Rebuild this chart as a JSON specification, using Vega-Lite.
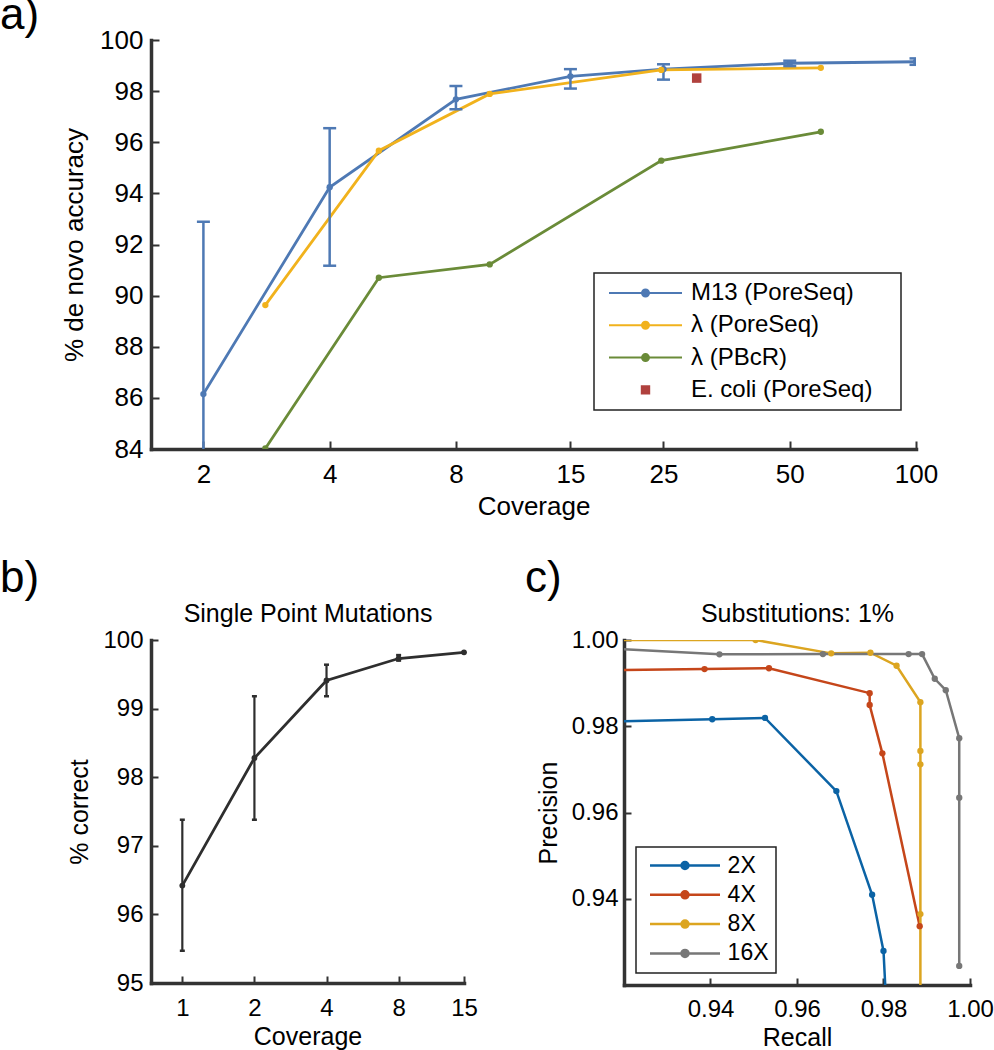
{
  "$schema": "https://vega.github.io/schema/vega-lite/v6.json",
  "autosize": {"type": "none"},
  "padding": {"left": 151, "top": 40, "right": 843, "bottom": 1010},
  "background": "white",
  "config": {
    "font": "Liberation Sans",
    "view": {"stroke": null},
    "axis": {"grid": false, "domainColor": "#333333", "domainWidth": 3.5, "domainCap": "square", "tickColor": "#333333", "tickWidth": 2, "labelColor": "#000000", "titleColor": "#000000", "titleFontWeight": "normal", "labelFlush": false, "labelOverlap": false},
    "title": {"fontWeight": "normal", "color": "#000000", "font": "Liberation Sans"}
  },
  "resolve": {"scale": {"color": "independent"}, "legend": {"color": "independent"}},
  "datasets": {
    "a": [
      {"s": "M13 (PoreSeq)", "cov": 2, "acc": 86.15, "lo": 79.4, "hi": 92.89},
      {"s": "M13 (PoreSeq)", "cov": 4, "acc": 94.24, "lo": 91.17, "hi": 96.55},
      {"s": "M13 (PoreSeq)", "cov": 8, "acc": 97.68, "lo": 97.29, "hi": 98.2},
      {"s": "M13 (PoreSeq)", "cov": 15, "acc": 98.58, "lo": 98.1, "hi": 98.86},
      {"s": "M13 (PoreSeq)", "cov": 25, "acc": 98.86, "lo": 98.45, "hi": 99.05},
      {"s": "M13 (PoreSeq)", "cov": 50, "acc": 99.09, "lo": 98.98, "hi": 99.19},
      {"s": "M13 (PoreSeq)", "cov": 100, "acc": 99.15, "lo": 99.03, "hi": 99.28},
      {"s": "λ (PoreSeq)", "cov": 2.81, "acc": 89.63},
      {"s": "λ (PoreSeq)", "cov": 5.24, "acc": 95.67},
      {"s": "λ (PoreSeq)", "cov": 9.63, "acc": 97.89},
      {"s": "λ (PoreSeq)", "cov": 24.7, "acc": 98.83},
      {"s": "λ (PoreSeq)", "cov": 59.3, "acc": 98.91},
      {"s": "λ (PBcR)", "cov": 2.81, "acc": 84.02},
      {"s": "λ (PBcR)", "cov": 5.24, "acc": 90.7},
      {"s": "λ (PBcR)", "cov": 9.63, "acc": 91.22},
      {"s": "λ (PBcR)", "cov": 24.7, "acc": 95.28},
      {"s": "λ (PBcR)", "cov": 59.3, "acc": 96.41},
      {"s": "E. coli (PoreSeq)", "cov": 30, "acc": 98.51}
    ],
    "b": [
      {"cov": 1, "pct": 96.42, "lo": 95.47, "hi": 97.38},
      {"cov": 2, "pct": 98.28, "lo": 97.38, "hi": 99.18},
      {"cov": 4, "pct": 99.41, "lo": 99.18, "hi": 99.64},
      {"cov": 8, "pct": 99.73, "lo": 99.7, "hi": 99.78},
      {"cov": 15, "pct": 99.82}
    ],
    "c": [
      {"cov": "2X", "i": 0, "recall": 0.915, "precision": 0.98104},
      {"cov": "2X", "i": 1, "recall": 0.9404, "precision": 0.98163},
      {"cov": "2X", "i": 2, "recall": 0.9526, "precision": 0.98193},
      {"cov": "2X", "i": 3, "recall": 0.9691, "precision": 0.96496},
      {"cov": "2X", "i": 4, "recall": 0.97737, "precision": 0.94093},
      {"cov": "2X", "i": 5, "recall": 0.98, "precision": 0.92791},
      {"cov": "2X", "i": 6, "recall": 0.98065, "precision": 0.915},
      {"cov": "4X", "i": 0, "recall": 0.915, "precision": 0.99296},
      {"cov": "4X", "i": 1, "recall": 0.93862, "precision": 0.99326},
      {"cov": "4X", "i": 2, "recall": 0.95352, "precision": 0.99345},
      {"cov": "4X", "i": 3, "recall": 0.9768, "precision": 0.98768},
      {"cov": "4X", "i": 4, "recall": 0.9768, "precision": 0.98492},
      {"cov": "4X", "i": 5, "recall": 0.97974, "precision": 0.97372},
      {"cov": "4X", "i": 6, "recall": 0.98837, "precision": 0.93365},
      {"cov": "8X", "i": 0, "recall": 0.915, "precision": 1.0},
      {"cov": "8X", "i": 1, "recall": 0.95043, "precision": 1.0},
      {"cov": "8X", "i": 2, "recall": 0.9679, "precision": 0.9969},
      {"cov": "8X", "i": 3, "recall": 0.97698, "precision": 0.99705},
      {"cov": "8X", "i": 4, "recall": 0.98302, "precision": 0.99403},
      {"cov": "8X", "i": 5, "recall": 0.98853, "precision": 0.98558},
      {"cov": "8X", "i": 6, "recall": 0.98853, "precision": 0.97426},
      {"cov": "8X", "i": 7, "recall": 0.98853, "precision": 0.97116},
      {"cov": "8X", "i": 8, "recall": 0.98853, "precision": 0.93644},
      {"cov": "8X", "i": 9, "recall": 0.98853, "precision": 0.915},
      {"cov": "16X", "i": 0, "recall": 0.915, "precision": 0.99809},
      {"cov": "16X", "i": 1, "recall": 0.94207, "precision": 0.99667},
      {"cov": "16X", "i": 2, "recall": 0.96599, "precision": 0.99674},
      {"cov": "16X", "i": 3, "recall": 0.98581, "precision": 0.99674},
      {"cov": "16X", "i": 4, "recall": 0.98892, "precision": 0.99674},
      {"cov": "16X", "i": 5, "recall": 0.99185, "precision": 0.99101},
      {"cov": "16X", "i": 6, "recall": 0.9944, "precision": 0.98837},
      {"cov": "16X", "i": 7, "recall": 0.99751, "precision": 0.97721},
      {"cov": "16X", "i": 8, "recall": 0.99751, "precision": 0.96342},
      {"cov": "16X", "i": 9, "recall": 0.99751, "precision": 0.92442}
    ]
  },
  "bounds": "flush",
  "spacing": 191,
  "vconcat": [
    {
      "width": 765,
      "height": 409,
      "title": {"text": "a)", "anchor": "start", "frame": "group", "dx": -151, "fontSize": 44, "offset": -11},
      "data": {"name": "a"},
      "layer": [
        {
          "transform": [{"filter": "datum.s !== 'E. coli (PoreSeq)'"}],
          "mark": {"type": "line", "strokeWidth": 2.8, "clip": true},
          "encoding": {
            "x": {"field": "cov", "type": "quantitative", "scale": {"type": "log", "domain": [1.5, 100], "nice": false},
              "axis": {"values": [2, 4, 8, 15, 25, 50, 100], "format": "d", "title": "Coverage", "labelFontSize": 26, "titleFontSize": 26, "tickSize": -8, "labelPadding": 20, "titlePadding": 6}},
            "y": {"field": "acc", "type": "quantitative", "scale": {"domain": [84, 100], "nice": false, "zero": false},
              "axis": {"values": [84, 86, 88, 90, 92, 94, 96, 98, 100], "format": "d", "title": "% de novo accuracy", "labelFontSize": 26, "titleFontSize": 26, "tickSize": -8, "labelPadding": 16, "titlePadding": 12}},
            "color": {"field": "s", "type": "nominal",
              "scale": {"domain": ["M13 (PoreSeq)", "λ (PoreSeq)", "λ (PBcR)", "E. coli (PoreSeq)"], "range": ["#4e79b4", "#f1b21c", "#6a8b38", "#b0413e"]},
              "legend": {
                "title": null, "orient": "none", "legendX": 443, "legendY": 233,
                "padding": 8, "rowPadding": 8.3, "labelFontSize": 24, "labelColor": "#000000", "labelLimit": 400,
                "labelExpr": "datum.label + '\u00a0\u00a0\u00a0\u200b'",
                "symbolSize": 4, "symbolStrokeWidth": 2, "symbolOffset": 31.5, "labelOffset": 33.5,
                "strokeColor": "#222222", "fillColor": "white",
                "encode": {
                  "symbols": {"update": {
                    "shape": {"signal": "datum.value === 'E. coli (PoreSeq)' ? 'M-3.7,-3.7H3.7V3.7H-3.7Z' : 'M-36.5,0H36.5M-3.5,0A3.5,3.5,0,1,1,3.5,0A3.5,3.5,0,1,1,-3.5,0'"},
                    "fill": {"signal": "datum.value === 'M13 (PoreSeq)' ? '#4e79b4' : datum.value === 'λ (PoreSeq)' ? '#f1b21c' : datum.value === 'λ (PBcR)' ? '#6a8b38' : '#b0413e'"},
                    "stroke": {"signal": "datum.value === 'M13 (PoreSeq)' ? '#4e79b4' : datum.value === 'λ (PoreSeq)' ? '#f1b21c' : datum.value === 'λ (PBcR)' ? '#6a8b38' : '#b0413e'"},
                    "strokeWidth": {"value": 2},
                    "opacity": {"value": 1},
                    "fillOpacity": {"value": 1},
                    "strokeOpacity": {"value": 1}
                  }},
                  "legend": {"update": {"strokeWidth": {"value": 1.5}}}
                }
              }}
          }
        },
        {
          "transform": [{"filter": "datum.lo != null"}],
          "mark": {"type": "rule", "strokeWidth": 2.5, "color": "#4e79b4", "clip": true},
          "encoding": {
            "x": {"field": "cov", "type": "quantitative", "scale": {"type": "log", "domain": [1.5, 100], "nice": false}},
            "y": {"field": "lo", "type": "quantitative", "scale": {"domain": [84, 100], "nice": false, "zero": false}},
            "y2": {"field": "hi"}
          }
        },
        {
          "transform": [{"filter": "datum.hi != null"}],
          "mark": {"type": "tick", "orient": "horizontal", "size": 13, "thickness": 2.5, "color": "#4e79b4", "opacity": 1, "clip": true},
          "encoding": {
            "x": {"field": "cov", "type": "quantitative", "scale": {"type": "log", "domain": [1.5, 100], "nice": false}},
            "y": {"field": "hi", "type": "quantitative", "scale": {"domain": [84, 100], "nice": false, "zero": false}}
          }
        },
        {
          "transform": [{"filter": "datum.lo != null"}],
          "mark": {"type": "tick", "orient": "horizontal", "size": 13, "thickness": 2.5, "color": "#4e79b4", "opacity": 1, "clip": true},
          "encoding": {
            "x": {"field": "cov", "type": "quantitative", "scale": {"type": "log", "domain": [1.5, 100], "nice": false}},
            "y": {"field": "lo", "type": "quantitative", "scale": {"domain": [84, 100], "nice": false, "zero": false}}
          }
        },
        {
          "transform": [{"filter": "datum.s !== 'E. coli (PoreSeq)'"}],
          "mark": {"type": "point", "filled": true, "size": 40, "opacity": 1, "clip": true},
          "encoding": {
            "x": {"field": "cov", "type": "quantitative", "scale": {"type": "log", "domain": [1.5, 100], "nice": false}},
            "y": {"field": "acc", "type": "quantitative", "scale": {"domain": [84, 100], "nice": false, "zero": false}},
            "color": {"field": "s", "type": "nominal", "legend": null}
          }
        },
        {
          "transform": [{"filter": "datum.s === 'E. coli (PoreSeq)'"}],
          "mark": {"type": "point", "shape": "square", "filled": true, "size": 90, "opacity": 1},
          "encoding": {
            "x": {"field": "cov", "type": "quantitative", "scale": {"type": "log", "domain": [1.5, 100], "nice": false}},
            "y": {"field": "acc", "type": "quantitative", "scale": {"domain": [84, 100], "nice": false, "zero": false}},
            "color": {"field": "s", "type": "nominal", "legend": null}
          }
        }
      ]
    },
    {
      "bounds": "flush",
      "spacing": 160,
      "resolve": {"scale": {"color": "independent"}, "legend": {"color": "independent"}},
      "hconcat": [
        {
          "width": 313,
          "height": 343,
          "title": {"text": "b)", "anchor": "start", "frame": "group", "dx": -151, "fontSize": 44, "offset": 0},
          "data": {"name": "b"},
          "resolve": {"axis": {"x": "independent"}},
          "layer": [
            {
              "layer": [
                {
                  "mark": {"type": "line", "strokeWidth": 2.8, "color": "#2e2e2e"},
                  "encoding": {
                    "x": {"field": "cov", "type": "quantitative", "scale": {"type": "log", "domain": [0.74, 15], "nice": false},
                      "axis": {"orient": "bottom", "values": [1, 2, 4, 8, 15], "format": "d", "title": "Coverage", "labelFontSize": 24, "titleFontSize": 25, "tickSize": -7, "labelPadding": 20, "titlePadding": 4}},
                    "y": {"field": "pct", "type": "quantitative", "scale": {"domain": [95, 100], "nice": false, "zero": false},
                      "axis": {"values": [95, 96, 97, 98, 99, 100], "format": "d", "title": "% correct", "labelFontSize": 24, "titleFontSize": 25, "tickSize": -7, "labelPadding": 15, "titlePadding": 10}}
                  }
                },
                {
                  "transform": [{"filter": "datum.lo != null"}],
                  "mark": {"type": "rule", "strokeWidth": 2.2, "color": "#2e2e2e"},
                  "encoding": {
                    "x": {"field": "cov", "type": "quantitative", "scale": {"type": "log", "domain": [0.74, 15], "nice": false}},
                    "y": {"field": "lo", "type": "quantitative", "scale": {"domain": [95, 100], "nice": false, "zero": false}},
                    "y2": {"field": "hi"}
                  }
                },
                {
                  "transform": [{"filter": "datum.lo != null"}],
                  "mark": {"type": "tick", "orient": "horizontal", "size": 5, "thickness": 2.5, "color": "#2e2e2e", "opacity": 1},
                  "encoding": {
                    "x": {"field": "cov", "type": "quantitative", "scale": {"type": "log", "domain": [0.74, 15], "nice": false}},
                    "y": {"field": "lo", "type": "quantitative", "scale": {"domain": [95, 100], "nice": false, "zero": false}}
                  }
                },
                {
                  "transform": [{"filter": "datum.hi != null"}],
                  "mark": {"type": "tick", "orient": "horizontal", "size": 5, "thickness": 2.5, "color": "#2e2e2e", "opacity": 1},
                  "encoding": {
                    "x": {"field": "cov", "type": "quantitative", "scale": {"type": "log", "domain": [0.74, 15], "nice": false}},
                    "y": {"field": "hi", "type": "quantitative", "scale": {"domain": [95, 100], "nice": false, "zero": false}}
                  }
                }
              ]
            },
            {
              "mark": {"type": "point", "filled": true, "size": 34, "opacity": 1, "color": "#2e2e2e"},
              "encoding": {
                "x": {"field": "cov", "type": "quantitative", "scale": {"type": "log", "domain": [0.74, 15], "nice": false},
                  "axis": {"orient": "top", "title": "Single Point Mutations", "labels": false, "ticks": false, "domain": false, "titleFontSize": 25, "titlePadding": 14}},
                "y": {"field": "pct", "type": "quantitative", "scale": {"domain": [95, 100], "nice": false, "zero": false}}
              }
            }
          ]
        },
        {
          "width": 346,
          "height": 345,
          "title": {"text": "c)", "anchor": "start", "frame": "group", "dx": -99, "fontSize": 44, "offset": 0},
          "data": {"name": "c"},
          "resolve": {"axis": {"x": "independent"}},
          "layer": [
            {
              "layer": [
                {
                  "mark": {"type": "line", "strokeWidth": 2.5, "clip": true},
                  "encoding": {
                    "x": {"field": "recall", "type": "quantitative", "scale": {"domain": [0.92, 1.0], "nice": false, "zero": false},
                      "axis": {"orient": "bottom", "values": [0.94, 0.96, 0.98, 1.0], "format": ".2f", "title": "Recall", "labelFontSize": 24, "titleFontSize": 25, "tickSize": -7, "labelPadding": 19, "titlePadding": 4}},
                    "y": {"field": "precision", "type": "quantitative", "scale": {"domain": [0.92, 1.0], "nice": false, "zero": false},
                      "axis": {"values": [0.94, 0.96, 0.98, 1.0], "format": ".2f", "title": "Precision", "labelFontSize": 24, "titleFontSize": 25, "tickSize": -7, "labelPadding": 13, "titlePadding": 10}},
                    "order": {"field": "i", "type": "quantitative"},
                    "color": {"field": "cov", "type": "nominal",
                      "scale": {"domain": ["2X", "4X", "8X", "16X"], "range": ["#0b63a5", "#c5461a", "#dca520", "#777777"]},
                      "legend": {
                        "title": null, "orient": "bottom-left", "offset": 12,
                        "padding": 7, "rowPadding": 5.3, "labelFontSize": 23, "labelColor": "#000000",
                        "symbolSize": 4, "symbolStrokeWidth": 2.5, "symbolOffset": 30.5, "labelOffset": 31.1,
                        "strokeColor": "#222222", "fillColor": "white",
                        "encode": {
                          "symbols": {"update": {
                            "shape": {"value": "M-35,0H35M-3.5,0A3.5,3.5,0,1,1,3.5,0A3.5,3.5,0,1,1,-3.5,0"},
                            "fill": {"signal": "datum.value === '2X' ? '#0b63a5' : datum.value === '4X' ? '#c5461a' : datum.value === '8X' ? '#dca520' : '#777777'"},
                            "stroke": {"signal": "datum.value === '2X' ? '#0b63a5' : datum.value === '4X' ? '#c5461a' : datum.value === '8X' ? '#dca520' : '#777777'"},
                            "strokeWidth": {"value": 2.5},
                            "opacity": {"value": 1},
                            "fillOpacity": {"value": 1},
                            "strokeOpacity": {"value": 1}
                          }},
                          "legend": {"update": {"strokeWidth": {"value": 1.5}}}
                        }
                      }}
                  }
                }
              ]
            },
            {
              "mark": {"type": "point", "filled": true, "size": 40, "opacity": 1, "clip": true},
              "encoding": {
                "x": {"field": "recall", "type": "quantitative", "scale": {"domain": [0.92, 1.0], "nice": false, "zero": false},
                  "axis": {"orient": "top", "title": "Substitutions: 1%", "labels": false, "ticks": false, "domain": false, "titleFontSize": 25, "titlePadding": 14}},
                "y": {"field": "precision", "type": "quantitative", "scale": {"domain": [0.92, 1.0], "nice": false, "zero": false}},
                "color": {"field": "cov", "type": "nominal", "legend": null}
              }
            }
          ]
        }
      ]
    }
  ]
}
